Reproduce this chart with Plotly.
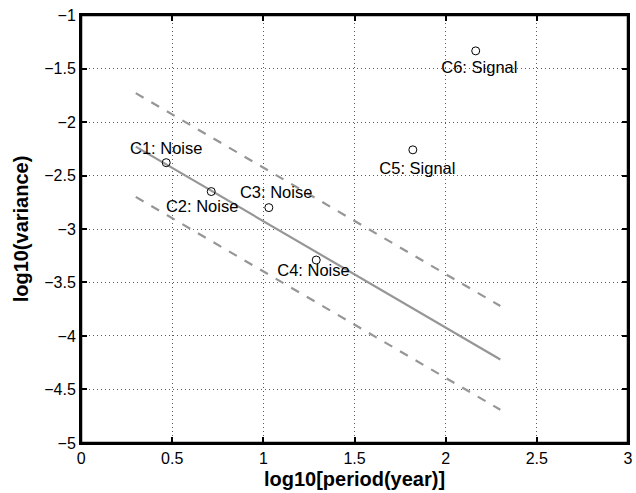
import plotly.graph_objects as go

# Data
names = ["C1: Noise", "C2: Noise", "C3: Noise", "C4: Noise", "C5: Signal", "C6: Signal"]
log_period = [0.467, 0.714, 1.03, 1.29, 1.82, 2.165]
log_var = [-2.38, -2.65, -2.80, -3.29, -2.26, -1.335]

fit_x = [0.3, 2.3]
fit_y = [-2.23, -4.22]
upper_y = [-1.73, -3.72]
lower_y = [-2.70, -4.69]

# label placement offsets (style, in data units)
label_dx = [0.0, -0.05, 0.04, -0.015, 0.025, 0.02]
label_dy = [0.12, -0.15, 0.13, -0.11, -0.19, -0.17]

xticks = [0, 0.5, 1, 1.5, 2, 2.5, 3]
yticks = [-1, -1.5, -2, -2.5, -3, -3.5, -4, -4.5, -5]

FONT = "Liberation Sans, Arial"
fig = go.Figure()
grey = "rgb(150,150,150)"
fig.add_trace(go.Scatter(x=fit_x, y=upper_y, mode="lines",
                         line=dict(color=grey, width=2.2, dash="dash")))
fig.add_trace(go.Scatter(x=fit_x, y=lower_y, mode="lines",
                         line=dict(color=grey, width=2.2, dash="dash")))
fig.add_trace(go.Scatter(x=fit_x, y=fit_y, mode="lines",
                         line=dict(color=grey, width=2.2)))
fig.add_trace(go.Scatter(x=log_period, y=log_var, mode="markers",
                         marker=dict(symbol="circle-open", size=8, color="black",
                                     line=dict(width=1))))
lx = [x + d for x, d in zip(log_period, label_dx)]
ly = [y + d for y, d in zip(log_var, label_dy)]
fig.add_trace(go.Scatter(x=lx, y=ly, mode="text", text=names,
                         textfont=dict(family=FONT, size=16.5, color="black")))

axis_common = dict(
    showline=True, linecolor="black", linewidth=2, mirror="allticks",
    ticks="inside", ticklen=6, tickwidth=1.5, tickcolor="black",
    showgrid=True, gridcolor="rgb(90,90,90)", gridwidth=1, griddash="1px,3px",
    zeroline=False, automargin=False,
    tickfont=dict(family=FONT, size=16, color="black"),
)
fig.update_xaxes(range=[-0.0005, 3.0005], tickvals=xticks, ticktext=[f"{v:g}" for v in xticks],
                 title=dict(text="<b>log10[period(year)]</b>", standoff=6,
                            font=dict(family=FONT, size=20, color="black")),
                 **axis_common)
fig.update_yaxes(range=[-5.0005, -0.9995], tickvals=yticks,
                 ticktext=[f"{v:g}".replace("-", "\u2212") for v in yticks],
                 title=dict(text="<b>log10(variance)</b>", standoff=10,
                            font=dict(family=FONT, size=20, color="black")),
                 **axis_common)
fig.add_shape(type="rect", xref="x domain", yref="y domain", x0=0, x1=1, y0=0, y1=1,
              line=dict(color="black", width=2.5), layer="above")
fig.update_layout(width=636, height=493, showlegend=False,
                  plot_bgcolor="white", paper_bgcolor="white",
                  margin=dict(l=81, r=8, t=15, b=50))
fig.write_html("out.html", config={"displayModeBar": False},
               post_script="document.body.style.margin='0';document.body.style.overflow='hidden';")
